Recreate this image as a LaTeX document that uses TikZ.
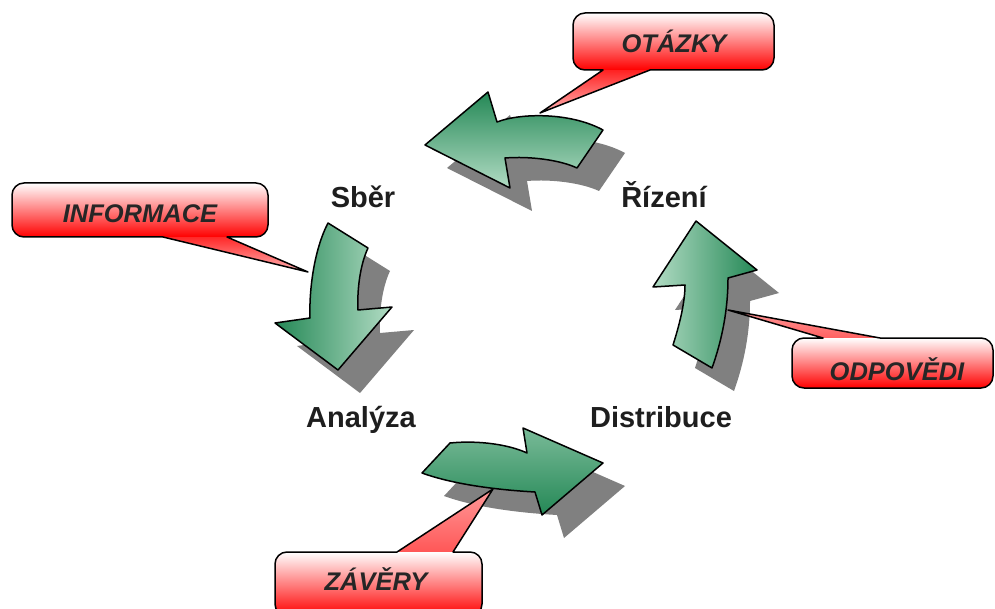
\documentclass[tikz,border=0pt]{standalone}
\usepackage{fontspec}
\setmainfont{Liberation Sans}
\definecolor{greendark}{RGB}{36,136,86}
\definecolor{greenlight}{RGB}{178,220,196}
\definecolor{shadowc}{RGB}{128,128,128}
\definecolor{labelgray}{RGB}{30,30,30}
\def\ArrTop{(425,145) -- (488,92) -- (497,122) .. controls (520,113) and (570,112) .. (603,130) -- (577,168) .. controls (560,160) and (530,156) .. (505,158) -- (510,188) -- cycle}
\def\ArrLeft{(328,223) -- (368,248) .. controls (360,265) and (357,290) .. (358,310) -- (392,307) -- (338,370) -- (275,323) -- (310,318) .. controls (309,290) and (314,250) .. (328,223) -- cycle}
\def\ArrRight{(696,221) -- (757,270) -- (728,278) .. controls (728,310) and (722,340) .. (712,368) -- (673,345) .. controls (681,320) and (685,300) .. (685,285) -- (653,287) -- cycle}
\def\ArrBottom{(422,473) -- (450,443) .. controls (480,440) and (510,445) .. (527,453) -- (523,428) -- (603,463) -- (542,515) -- (535,492) .. controls (500,490) and (455,485) .. (422,473) -- cycle}
\begin{document}
\begin{tikzpicture}[x=1pt,y=-1pt,
  arrowline/.style={draw=black, line width=1.5pt, line join=round},
  shadowfill/.style={fill=shadowc, shift={(22,23)}},
  callbox/.style={rounded corners=12pt, top color=white, middle color=red!55, bottom color=red},
  tailbottom/.style={top color=red, bottom color=red!30},
  tailtop/.style={top color=red!40, bottom color=red!70},
  callline/.style={draw=black, line width=1.5pt, line join=round, line cap=round},
  lbl/.style={font=\fontsize{29}{34}\selectfont\bfseries, text=labelgray, anchor=base, inner sep=0pt},
  ctext/.style={font=\fontsize{25.5}{30}\selectfont\bfseries\itshape, text=black!85, anchor=base, inner sep=0pt}]
\useasboundingbox (0,0) rectangle (995,609);
\fill[white] (0,0) rectangle (995,609);
% shadows
\fill[shadowfill] \ArrTop;
\fill[shadowfill] \ArrLeft;
\fill[shadowfill] \ArrRight;
\fill[shadowfill] \ArrBottom;
% arrows
\path[arrowline, top color=greendark, bottom color=greenlight] \ArrTop;
\path[arrowline, left color=greendark, right color=greenlight] \ArrLeft;
\path[arrowline, left color=greenlight, right color=greendark] \ArrRight;
\path[arrowline, top color=greenlight!60!greendark, bottom color=greendark] \ArrBottom;
% callout OTAZKY
\path[tailbottom] (540,113) -- (603,70) -- (603,60) -- (650,60) -- (650,70) -- cycle;
\path[callbox] (573,13) rectangle (774,70);
\draw[callline] (603,70) -- (540,113) -- (650,70) [rounded corners=12pt] -- (774,70) -- (774,13) -- (573,13) -- (573,70) -- (603,70);
% callout INFORMACE
\path[tailbottom] (308,272) -- (163,237) -- (163,227) -- (227,227) -- (227,237) -- cycle;
\path[callbox] (12,183) rectangle (268,237);
\draw[callline] (163,237) -- (308,272) -- (227,237) [rounded corners=12pt] -- (268,237) -- (268,183) -- (12,183) -- (12,237) -- (163,237);
% callout ODPOVEDI
\path[tailtop] (728,310) -- (823,338) -- (823,348) -- (880,348) -- (880,338) -- cycle;
\path[callbox] (792,338) rectangle (993,388);
\draw[callline] (823,338) -- (728,310) -- (880,338) [rounded corners=12pt] -- (993,338) -- (993,388) -- (792,388) -- (792,338) -- (823,338);
% callout ZAVERY
\path[tailtop] (493,489) -- (397,552) -- (397,562) -- (453,562) -- (453,552) -- cycle;
\path[callbox] (275,552) rectangle (482,616);
\draw[callline] (397,552) -- (493,489) -- (453,552) [rounded corners=12pt] -- (482,552) -- (482,616) -- (275,616) -- (275,552) -- (397,552);
% texts
\node[ctext] (otazky) at (674,53) {OTÁZKY};
\node[ctext] (informace) at (140,223) {INFORMACE};
\node[ctext] (odpovedi) at (897,380) {ODPOVĚDI};
\node[ctext] (zavery) at (376,590) {ZÁVĚRY};
\node[lbl] (sber) at (363,208) {Sběr};
\node[lbl] (rizeni) at (664,208) {Řízení};
\node[lbl] (analyza) at (361,427) {Analýza};
\node[lbl] (distribuce) at (661,427) {Distribuce};
\end{tikzpicture}
\end{document}
